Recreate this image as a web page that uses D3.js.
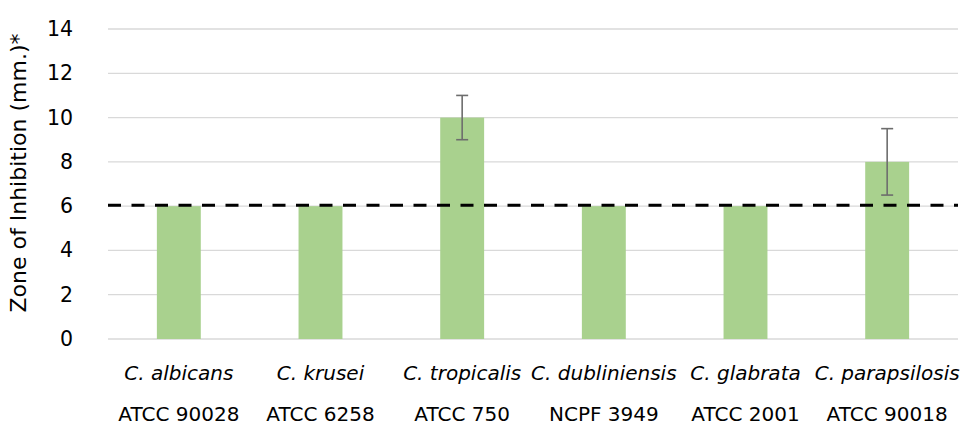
<!DOCTYPE html>
<html>
<head>
<meta charset="utf-8">
<script src="https://cdn.jsdelivr.net/npm/d3@7"></script>
<style>
  body { margin: 0; background: #fff; }
  text { font-family: "DejaVu Sans", sans-serif; fill: #000; }
</style>
</head>
<body>
<script>
var species = ["C. albicans", "C. krusei", "C. tropicalis", "C. dubliniensis", "C. glabrata", "C. parapsilosis"];
var strains = ["ATCC 90028", "ATCC 6258", "ATCC 750", "NCPF 3949", "ATCC 2001", "ATCC 90018"];
var zones = [6, 6, 10, 6, 6, 8];
var errors = [0, 0, 1, 0, 0, 1.5];
var yTicks = [0, 2, 4, 6, 8, 10, 12, 14];
var cutoff = 6;

var width = 975, height = 426;
var margin = { top: 29, right: 17, bottom: 87, left: 108 };
var w = width - margin.left - margin.right;
var h = height - margin.top - margin.bottom;

var svg = d3.select("body").append("svg")
  .attr("width", width)
  .attr("height", height);

var g = svg.append("g")
  .attr("transform", "translate(" + margin.left + "," + margin.top + ")");

var x = d3.scaleBand().domain(species).range([0, w]).paddingInner(0.69).paddingOuter(0.345);
var y = d3.scaleLinear().domain([0, 14]).range([h, 0]);

// gridlines
g.selectAll(".grid").data(yTicks).enter().append("line")
  .attr("class", "grid")
  .attr("x1", 0).attr("x2", w)
  .attr("y1", d => y(d)).attr("y2", d => y(d))
  .attr("stroke", "#d9d9d9").attr("stroke-width", 1.3);

var yAxis = d3.axisLeft(y).tickValues(yTicks).tickSize(0).tickPadding(35);
g.append("g").attr("class", "y axis").call(yAxis)
  .call(s => s.select(".domain").remove())
  .selectAll("text").style("font-size", "20.5px").style("font-family", "DejaVu Sans");

// bars
g.selectAll(".bar").data(zones).enter().append("rect")
  .attr("class", "bar")
  .attr("x", (d, i) => x(species[i]))
  .attr("width", x.bandwidth())
  .attr("y", d => y(d))
  .attr("height", d => h - y(d))
  .attr("fill", "#a9d18e");

// error bars
var eb = g.selectAll(".err").data(zones.map((d, i) => ({ v: d, e: errors[i], c: species[i] })).filter(d => d.e > 0))
  .enter().append("g").attr("class", "err")
  .attr("stroke", "#6d6d6d").attr("stroke-width", 1.6);
eb.append("line")
  .attr("x1", d => x(d.c) + x.bandwidth() / 2).attr("x2", d => x(d.c) + x.bandwidth() / 2)
  .attr("y1", d => y(d.v - d.e)).attr("y2", d => y(d.v + d.e));
eb.selectAll(".cap").data(d => [[d, d.v - d.e], [d, d.v + d.e]]).enter().append("line")
  .attr("x1", d => x(d[0].c) + x.bandwidth() / 2 - 6).attr("x2", d => x(d[0].c) + x.bandwidth() / 2 + 6)
  .attr("y1", d => y(d[1])).attr("y2", d => y(d[1]));

// cutoff line
g.append("line")
  .attr("x1", 0).attr("x2", w)
  .attr("y1", y(cutoff) - 1).attr("y2", y(cutoff) - 1)
  .attr("stroke", "#000").attr("stroke-width", 3)
  .attr("stroke-dasharray", "13,10.5");

// category labels
var xl = g.selectAll(".xlab").data(species).enter().append("g")
  .attr("class", "xlab")
  .attr("transform", d => "translate(" + (x(d) + x.bandwidth() / 2) + "," + h + ")");
xl.append("text")
  .attr("y", 41).attr("text-anchor", "middle")
  .style("font-size", "20px").style("font-style", "italic")
  .text(d => d);
xl.append("text")
  .attr("y", 82).attr("text-anchor", "middle")
  .style("font-size", "20px")
  .text((d, i) => strains[i]);

// y title
svg.append("text")
  .attr("transform", "translate(26," + (margin.top + h / 2 - 11) + ") rotate(-90)")
  .attr("text-anchor", "middle")
  .style("font-size", "22px")
  .text("Zone of Inhibition (mm.)*");
</script>
</body>
</html>
